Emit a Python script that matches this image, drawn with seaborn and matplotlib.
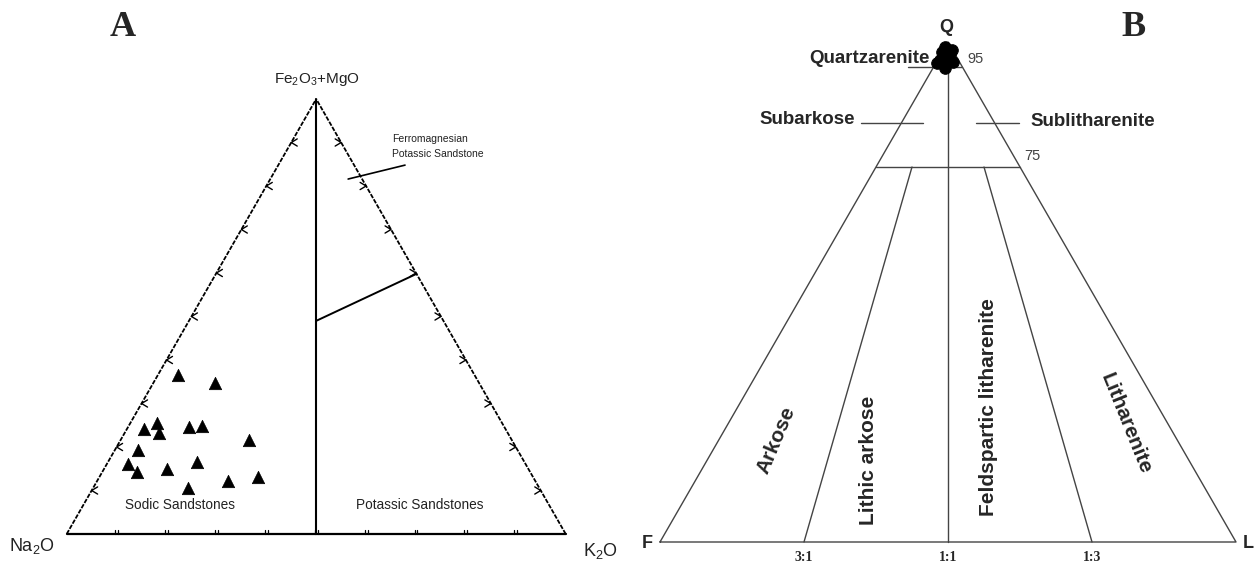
import numpy as np
import pandas as pd
import matplotlib
matplotlib.use("Agg")
import matplotlib.pyplot as plt
import seaborn as sns

sns.set_theme(style="white")
plt.rcParams['font.family'] = ['Liberation Sans', 'DejaVu Sans']
plt.rcParams['mathtext.fontset'] = 'custom'
plt.rcParams['mathtext.rm'] = 'Liberation Sans'
plt.rcParams['mathtext.it'] = 'Liberation Sans:italic'
plt.rcParams['mathtext.bf'] = 'Liberation Sans:bold'

W, H = 1255, 566

# ---------------- Panel A data (fractions: Na2O, K2O, Fe2O3+MgO) ----------------
a_fe = [0.366, 0.346, 0.241, 0.255, 0.233, 0.245, 0.249, 0.215,
        0.193, 0.166, 0.161, 0.143, 0.149, 0.122, 0.132, 0.105]
a_k = [0.041, 0.125, 0.035, 0.053, 0.069, 0.122, 0.146, 0.257,
       0.047, 0.179, 0.043, 0.069, 0.126, 0.263, 0.318, 0.191]
a_na = [0.593, 0.529, 0.724, 0.692, 0.698, 0.633, 0.605, 0.528,
        0.760, 0.655, 0.796, 0.788, 0.725, 0.615, 0.550, 0.704]
tick_fracs = [0.1, 0.2, 0.3, 0.4, 0.5, 0.6, 0.7, 0.8, 0.9]
# division line: centre (Na=K) to the K2O-Fe edge  (Fe, K, Na)
a_div_fe = [0.490, 0.598]
a_div_k = [0.255, 0.402]
a_div_na = [0.255, 0.000]
# leader for the ferromagnesian label
a_lead_fe = [0.816, 0.848]
a_lead_k = [0.156, 0.254]
a_lead_na = [0.028, -0.102]

# ---------------- Panel B data (percent: Q, F, L) ----------------
b_q = [99.0, 98.4, 96.4, 96.8, 94.8, 96.0, 95.8, 97.6, 98.0]
b_f = [1.0, 0.1, 3.2, 1.6, 3.1, 1.1, 4.0, 0.9, 2.0]
b_l = [0.0, 1.5, 0.4, 1.6, 2.1, 2.9, 0.2, 1.5, 0.0]
ratio_labels = ["3:1", "1:1", "1:3"]
ratio_l = [0.25, 0.50, 0.75]   # L/(F+L) on the base

hA = 435 / 499
hB = 500 / 576


def ternA(fe, k):
    fe = np.asarray(fe, float); k = np.asarray(k, float)
    return k + fe / 2, fe * hA


def ternB(q, l):
    q = np.asarray(q, float); l = np.asarray(l, float)
    return l + q / 2, q * hB


fig = plt.figure(figsize=(W / 100, H / 100), dpi=100)


def fpx(x, y):
    return x / W, 1 - y / H


# ================= Panel A =================
axA = fig.add_axes([0, 0, 627 / W, 1])
lw = 1.3
x, y = ternA([0, 1], [0, 0])
axA.plot(x, y, color='black', lw=lw, ls=(0, (2.5, 0.8)))
x, y = ternA([0, 1], [1, 0])
axA.plot(x, y, color='black', lw=lw, ls=(0, (2.5, 0.8)))
x, y = ternA([0, 0], [0, 1])
axA.plot(x, y, color='black', lw=1.6)
x, y = ternA([0, 1], [0.5, 0])
axA.plot(x, y, color='black', lw=1.5)
x, y = ternA(a_div_fe, a_div_k)
axA.plot(x, y, color='black', lw=1.4)
x, y = ternA(a_lead_fe, a_lead_k)
axA.plot(x, y, color='black', lw=1.2)

d = 0.012
for t in tick_fracs:
    px_, py_ = ternA(t, 0)
    axA.plot([px_ + d, px_, px_ + d], [py_ + d * 0.6, py_, py_ - d * 0.6], color='black', lw=1.0)
    px_, py_ = ternA(t, 1 - t)
    axA.plot([px_ - d, px_, px_ - d], [py_ + d * 0.6, py_, py_ - d * 0.6], color='black', lw=1.0)
    px_, py_ = ternA(0, t)
    for off in (-0.003, 0.003):
        axA.plot([px_ + off, px_ + off], [0, 0.009], color='black', lw=0.9)

xa, ya = ternA(a_fe, a_k)
dfA = pd.DataFrame({'x': xa, 'y': ya})
sns.scatterplot(data=dfA, x='x', y='y', marker='^', s=80, color='black',
                edgecolor='black', linewidth=0.5, ax=axA, zorder=5)
axA.set_xlim(-66.7 / 499, (627 - 66.7) / 499)
axA.set_ylim(-(566 - 534) / 499, 534 / 499)
axA.axis('off')

fig.text(*fpx(123, 27), "A", fontsize=26, fontweight='bold',
         family=['Liberation Serif'], ha='center', va='center')
fig.text(*fpx(317, 79), r"Fe$_\mathregular{2}$O$_\mathregular{3}$+MgO", fontsize=11,
         ha='center', va='center', color='#222222')
fig.text(*fpx(32, 546), r"Na$_\mathregular{2}$O", fontsize=13, ha='center', va='center',
         color='#222222')
fig.text(*fpx(600, 551), r"K$_\mathregular{2}$O", fontsize=13, ha='center', va='center',
         color='#222222')
fig.text(*fpx(392, 139), "Ferromagnesian", fontsize=7.5, ha='left', va='center', color='#222222')
fig.text(*fpx(392, 154), "Potassic Sandstone", fontsize=7.5, ha='left', va='center', color='#222222')
fig.text(*fpx(180, 505), "Sodic Sandstones", fontsize=9.8, ha='center', va='center', color='#222222')
fig.text(*fpx(420, 505), "Potassic Sandstones", fontsize=9.8, ha='center', va='center', color='#222222')

# ================= Panel B =================
axB = fig.add_axes([627 / W, 0, (W - 627) / W, 1])
lc = '#444444'
blw = 1.0
x, y = ternB([0, 0, 1, 0], [0, 1, 0, 0])
axB.plot(x, y, color=lc, lw=blw)
x, y = ternB([0.95, 0.95], [-0.044, 0.049])
axB.plot(x, y, color=lc, lw=blw)
x, y = ternB([0.75, 0.75], [0.0, 0.25])
axB.plot(x, y, color=lc, lw=blw)
x, y = ternB([0.838, 0.838], [-0.07, 0.038])
axB.plot(x, y, color=lc, lw=blw)
x, y = ternB([0.838, 0.838], [0.13, 0.205])
axB.plot(x, y, color=lc, lw=blw)
for r in ratio_l:
    qt = 1.0 if r == 0.5 else 0.75
    x, y = ternB([qt, 0.0], [(1 - qt) * r, r])
    axB.plot(x, y, color=lc, lw=blw)

qb = np.array(b_q) / 100
lb = np.array(b_l) / 100
xb, yb = ternB(qb, lb)
dfB = pd.DataFrame({'x': xb, 'y': yb})
sns.scatterplot(data=dfB, x='x', y='y', marker='o', s=70, color='black',
                edgecolor='black', ax=axB, zorder=5)
axB.set_xlim((627 - 660) / 576, (1255 - 660) / 576)
axB.set_ylim((542 - 566) / 576, 542 / 576)
axB.axis('off')

for lab, r in zip(ratio_labels, ratio_l):
    axB.text(r, -0.027, lab, fontsize=10, fontweight='bold', family=['Liberation Serif'],
             ha='center', va='center')

fig.text(*fpx(1133, 27), "B", fontsize=26, fontweight='bold',
         family=['Liberation Serif'], ha='center', va='center')
fig.text(*fpx(946, 28), "Q", fontsize=13, fontweight='bold', ha='center', va='center')
fig.text(*fpx(647, 543), "F", fontsize=13, fontweight='bold', ha='center', va='center')
fig.text(*fpx(1248, 543), "L", fontsize=13, fontweight='bold', ha='center', va='center')
fig.text(*fpx(930, 58), "Quartzarenite", fontsize=13.5, fontweight='bold', ha='right', va='center')
fig.text(*fpx(967, 59), "95", fontsize=10.5, ha='left', va='center', color='#444444')
fig.text(*fpx(855, 120), "Subarkose", fontsize=13.5, fontweight='bold', ha='right', va='center')
fig.text(*fpx(1030, 121), "Sublitharenite", fontsize=13.5, fontweight='bold', ha='left', va='center')
fig.text(*fpx(1024, 156), "75", fontsize=10.5, ha='left', va='center', color='#444444')
fig.text(*fpx(776, 440), "Arkose", fontsize=15, fontweight='bold', rotation=67,
         ha='center', va='center')
fig.text(*fpx(869, 460), "Lithic arkose", fontsize=15, fontweight='bold', rotation=90,
         ha='center', va='center')
fig.text(*fpx(988, 407), "Feldspartic litharenite", fontsize=15, fontweight='bold',
         rotation=90, ha='center', va='center')
fig.text(*fpx(1126, 424), "Litharenite", fontsize=15, fontweight='bold', rotation=-68,
         ha='center', va='center')

fig.savefig("out.png", dpi=100)
